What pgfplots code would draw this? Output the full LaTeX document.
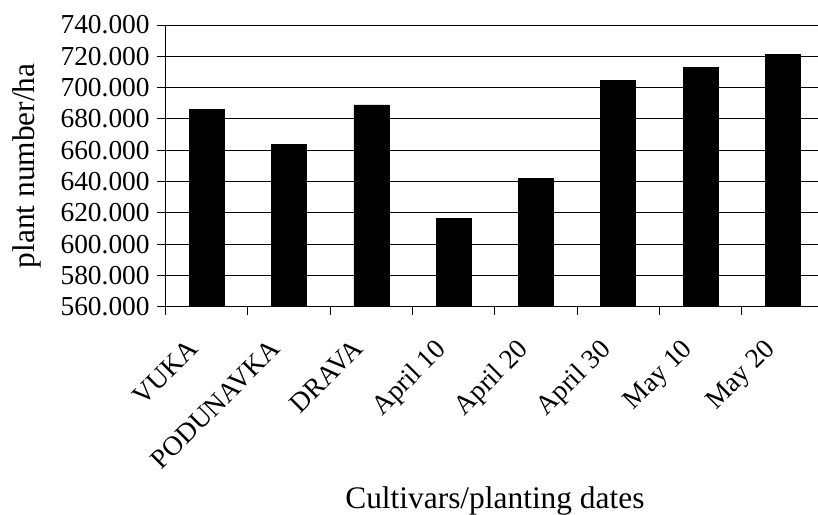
\documentclass[border=0pt]{standalone}
\usepackage{fontspec}
\setmainfont{Liberation Serif}
\usepackage{pgfplots}
\pgfplotsset{compat=1.18}
\begin{document}
\begin{tikzpicture}
\useasboundingbox (-82.85pt,-103.65pt) rectangle (326.15pt,153.35pt);
\clip (-82.85pt,-103.65pt) rectangle (326.15pt,153.35pt);
\begin{axis}[
  scale only axis, width=329.2pt, height=140.85pt,
  xmin=-0.5, xmax=7.5, ymin=560, ymax=740,
  ybar, bar width=17.5pt,
  axis x line*=bottom, axis y line*=left,
  axis line style={black, line width=0.6pt},
  ytick={560,580,...,740},
  yticklabels={560.000,580.000,600.000,620.000,640.000,660.000,680.000,700.000,720.000,740.000},
  ymajorgrids, grid style={black, line width=0.5pt},
  xtick={0,...,7},
  xticklabels={VUKA,PODUNAVKA,DRAVA,April 10,April 20,April 30,May 10,May 20},
  minor xtick={-0.5,0.5,...,7.5},
  tick align=outside,
  major tick length=4.5pt, minor tick length=4pt,
  tick style={black, line width=0.5pt},
  every major x tick/.style={draw=none},
  xticklabel style={xshift=-10pt, yshift=-6pt, rotate=45, anchor=north east, font=\fontsize{13.7}{16}\selectfont},
  yticklabel style={font=\fontsize{13.7}{16}\selectfont},
  xlabel={Cultivars/planting dates},
  ylabel={plant number/ha},
  xlabel style={at={(axis description cs:0.5,-0.7146)}, anchor=base, font=\fontsize{15.7}{18}\selectfont},
  ylabel style={at={(axis description cs:-0.2107,0.5)}, anchor=center, font=\fontsize{15.7}{18}\selectfont},
]
\addplot[fill=black, draw=black] coordinates {(0,686) (1,663.6) (2,688.9) (3,616.4) (4,641.9) (5,704.3) (6,713) (7,721)};
\end{axis}
\end{tikzpicture}
\end{document}
